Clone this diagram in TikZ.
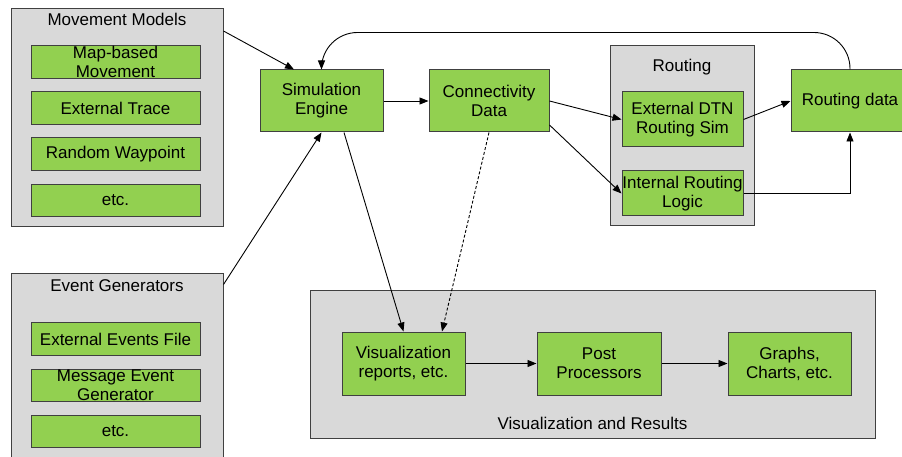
\documentclass[tikz,border=0pt]{standalone}
\usepackage{fontspec}
\setmainfont{Liberation Sans}
\usetikzlibrary{arrows.meta,calc}
\definecolor{boxgreen}{HTML}{92D050}
\definecolor{groupgray}{HTML}{D9D9D9}
\definecolor{edgegray}{HTML}{404040}
\begin{document}
\begin{tikzpicture}[x=1pt,y=-1pt,
  font=\fontsize{17}{19}\selectfont,
  group/.style={rectangle, draw=edgegray, fill=groupgray, line width=1pt, inner sep=0pt},
  block/.style={rectangle, draw=edgegray, fill=boxgreen, line width=1pt, inner sep=0pt, align=center},
  heading/.style={inner sep=0pt, align=center},
  arr/.style={-{Triangle[length=9pt,width=7pt]}, line width=0.9pt, black},
  dashline/.style={dash pattern=on 3pt off 2pt}]
\useasboundingbox (0,0) rectangle (902,457);

% group frames
\node[group, minimum width=212pt, minimum height=218pt] (mm) at (117,117.5) {};
\node[group, minimum width=212pt, minimum height=189pt] (eg) at (117,367.5) {};
\node[group, minimum width=144pt, minimum height=180pt] (rt) at (682,136) {};
\node[group, minimum width=565pt, minimum height=148pt] (vg) at (592.5,364) {};

% group headings
\node[heading] (mmt) at (117,19) {Movement Models};
\node[heading] (egt) at (117,286) {Event Generators};
\node[heading] (rtt) at (682,67) {Routing};
\node[heading] (vgt) at (592.5,423) {Visualization and Results};

% movement models
\node[block, minimum width=169pt, minimum height=32.5pt] (mb) at (115.5,62) {Map-based\\Movement};
\node[block, minimum width=169pt, minimum height=32.5pt] (et) at (115.5,108) {External Trace};
\node[block, minimum width=169pt, minimum height=32.5pt] (rw) at (115.5,154) {Random Waypoint};
\node[block, minimum width=169pt, minimum height=32.5pt] (me) at (115.5,200.5) {etc.};

% event generators
\node[block, minimum width=169pt, minimum height=32.5pt] (ef) at (115.5,339) {External Events File};
\node[block, minimum width=169pt, minimum height=32.5pt] (mg) at (115.5,385.5) {Message Event\\Generator};
\node[block, minimum width=169pt, minimum height=32.5pt] (ge) at (115.5,431.5) {etc.};

% core
\node[block, minimum width=123pt, minimum height=62pt] (se) at (321.5,101) {Simulation\\Engine};
\node[block, minimum width=120pt, minimum height=62pt] (cd) at (489,101) {Connectivity\\Data};

% routing
\node[block, minimum width=121pt, minimum height=55pt] (ext) at (682.5,119.5) {External DTN\\Routing Sim};
\node[block, minimum width=121pt, minimum height=45pt] (irl) at (682.5,193.5) {Internal Routing\\Logic};
\node[block, minimum width=118pt, minimum height=62pt] (rd) at (850,101) {Routing data};

% visualization and results
\node[block, minimum width=123pt, minimum height=63pt] (vr) at (403.5,363.5) {Visualization\\reports, etc.};
\node[block, minimum width=124pt, minimum height=63pt] (pp) at (599,363.5) {Post\\Processors};
\node[block, minimum width=123pt, minimum height=63pt] (gc) at (789.5,363.5) {Graphs,\\Charts, etc.};

% connectors
\draw[arr] ($(mm.north east)+(0,23)$) -- ($(se.north)+(-27.5,0)$);
\draw[arr] ($(eg.north east)+(0,12)$) -- (se.south);
\draw[arr] (se.east) -- (cd.west);
\draw[arr] ($(se.south)+(22.5,0)$) -- (vr.north);
\draw[arr, dashline] (cd.south) -- ($(vr.north)+(38.5,0)$);
\draw[arr] (cd.east) -- (ext.west);
\draw[arr] ($(cd.east)+(0,24)$) -- (irl.west);
\draw[arr] (ext.east) -- (rd.west);
\draw[arr] (irl.east) -| (rd.south);
\draw[arr, rounded corners=36pt] (rd.north) |- ($(se.north)+(0,-37)$) -- (se.north);
\draw[arr] (vr.east) -- (pp.west);
\draw[arr] (pp.east) -- (gc.west);
\end{tikzpicture}
\end{document}
